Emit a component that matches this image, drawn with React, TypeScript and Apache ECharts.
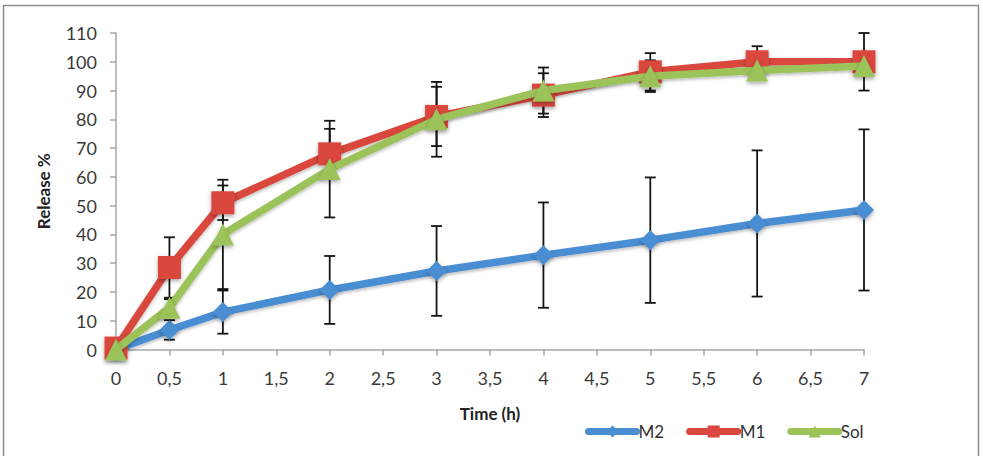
import { useEffect, useRef } from "react";
import * as echarts from "echarts";

// Sampling times (h)
const timeH = [0, 0.5, 1, 2, 3, 4, 5, 6, 7];

// Mean cumulative release (%) and standard deviations
const m2Release = [0, 6.8, 13, 20.7, 27.3, 32.8, 38, 43.8, 48.5];
const m2Sd = [0, 3.4, 7.5, 11.8, 15.6, 18.3, 21.8, 25.4, 28];

const m1Release = [0.5, 28.5, 51, 68, 81, 88.4, 96.5, 100, 100];
const m1Sd = [0, 10.5, 6, 8.7, 10.3, 7.6, 6.5, 5.4, 10];

const solRelease = [0, 14.5, 40, 62.7, 80, 90, 95, 97, 98.5];
const solSd = [0, 3, 19, 16.8, 13, 8, 5.5, 3, 3];

const seriesNames = ["M2", "M1", "Sol"];
const seriesColors = ["#4a8dd3", "#d9473e", "#9cc25a"];
const seriesSymbols = ["diamond", "rect", "triangle"];
const symbolSizes = [20, 23, 22];

const FONT = "Lato, 'Open Sans', sans-serif";

function pairs(values: number[]) {
  return timeH.map((t, i) => [t, values[i]]);
}

function errorBars(name: string, values: number[], sd: number[]) {
  const data = timeH
    .map((t, i) => [t, values[i] - sd[i], values[i] + sd[i]])
    .filter((_, i) => sd[i] > 0);
  return {
    type: "custom",
    name: name + " SD",
    z: 1,
    silent: true,
    data,
    encode: { x: 0, y: [1, 2] },
    renderItem: (_params: any, api: any) => {
      const lo = api.coord([api.value(0), api.value(1)]);
      const hi = api.coord([api.value(0), api.value(2)]);
      const hw = 5.5;
      const style = { stroke: "#141414", lineWidth: 1.8 };
      return {
        type: "group",
        children: [
          { type: "line", shape: { x1: lo[0], y1: lo[1], x2: hi[0], y2: hi[1] }, style },
          { type: "line", shape: { x1: lo[0] - hw, y1: lo[1], x2: lo[0] + hw, y2: lo[1] }, style },
          { type: "line", shape: { x1: hi[0] - hw, y1: hi[1], x2: hi[0] + hw, y2: hi[1] }, style },
        ],
      };
    },
  };
}

function lineSeries(idx: number, values: number[]) {
  return {
    type: "line",
    name: seriesNames[idx],
    z: 3 + idx,
    data: pairs(values),
    symbol: seriesSymbols[idx],
    symbolSize: symbolSizes[idx],
    showAllSymbol: true,
    color: seriesColors[idx],
    lineStyle: {
      width: 7.5,
      color: seriesColors[idx],
      cap: "round",
      shadowBlur: 3,
      shadowColor: "rgba(0,0,0,0.25)",
      shadowOffsetY: 2,
    },
    itemStyle: {
      color: seriesColors[idx],
      shadowBlur: 4,
      shadowColor: "rgba(0,0,0,0.35)",
      shadowOffsetY: 2,
    },
  };
}

export default function App() {
  const ref = useRef<HTMLDivElement>(null);

  useEffect(() => {
    if (!ref.current) return;
    const chart = echarts.init(ref.current, undefined, { renderer: "svg" });
    chart.setOption({
      animation: false,
      backgroundColor: "#ffffff",
      textStyle: { fontFamily: FONT },
      grid: { left: 116, right: 119, top: 33, bottom: 106.5, containLabel: false },
      xAxis: {
        type: "value",
        min: 0,
        max: 7,
        interval: 0.5,
        name: "Time (h)",
        nameLocation: "middle",
        nameGap: 55,
        nameTextStyle: { fontFamily: FONT, fontSize: 17, fontWeight: "bold", color: "#222" },
        axisLine: { show: true, onZero: false, lineStyle: { color: "#a6a6a6", width: 1.5 } },
        axisTick: { show: true, length: 6, lineStyle: { color: "#a6a6a6", width: 1.5 } },
        splitLine: { show: false },
        axisLabel: {
          fontFamily: FONT,
          fontSize: 18,
          color: "#3a3a3a",
          margin: 19,
          formatter: (v: number) => String(v).replace(".", ","),
        },
      },
      yAxis: {
        type: "value",
        min: 0,
        max: 110,
        interval: 10,
        name: "Release %",
        nameLocation: "middle",
        nameRotate: 90,
        nameGap: 64,
        nameTextStyle: { fontFamily: FONT, fontSize: 17, fontWeight: "bold", color: "#222" },
        axisLine: { show: true, lineStyle: { color: "#a6a6a6", width: 1.5 } },
        axisTick: { show: true, length: 6, lineStyle: { color: "#a6a6a6", width: 1.5 } },
        splitLine: { show: false },
        axisLabel: { fontFamily: FONT, fontSize: 18, color: "#3a3a3a", margin: 19 },
      },
      legend: {
        data: seriesNames,
        left: 585,
        top: 423,
        padding: 0,
        itemWidth: 48,
        itemHeight: 15,
        itemGap: 22,
        lineStyle: { width: 7, cap: "round", shadowBlur: 0 },
        itemStyle: { shadowBlur: 0 },
        textStyle: { fontFamily: FONT, fontSize: 17, color: "#333", padding: [0, 0, 0, -3] },
      },
      graphic: [
        {
          type: "rect",
          silent: true,
          z: -1,
          shape: { x: 3.5, y: 5.5, width: 975, height: 480 },
          style: { fill: "none", stroke: "#8c8c8c", lineWidth: 1.5 },
        },
      ],
      series: [
        errorBars("M2", m2Release, m2Sd),
        errorBars("M1", m1Release, m1Sd),
        errorBars("Sol", solRelease, solSd),
        lineSeries(0, m2Release),
        lineSeries(1, m1Release),
        lineSeries(2, solRelease),
      ],
    });
    return () => chart.dispose();
  }, []);

  return (
    <div
      ref={ref}
      style={{ position: "fixed", left: 0, top: 0, width: 983, height: 456 }}
    />
  );
}
